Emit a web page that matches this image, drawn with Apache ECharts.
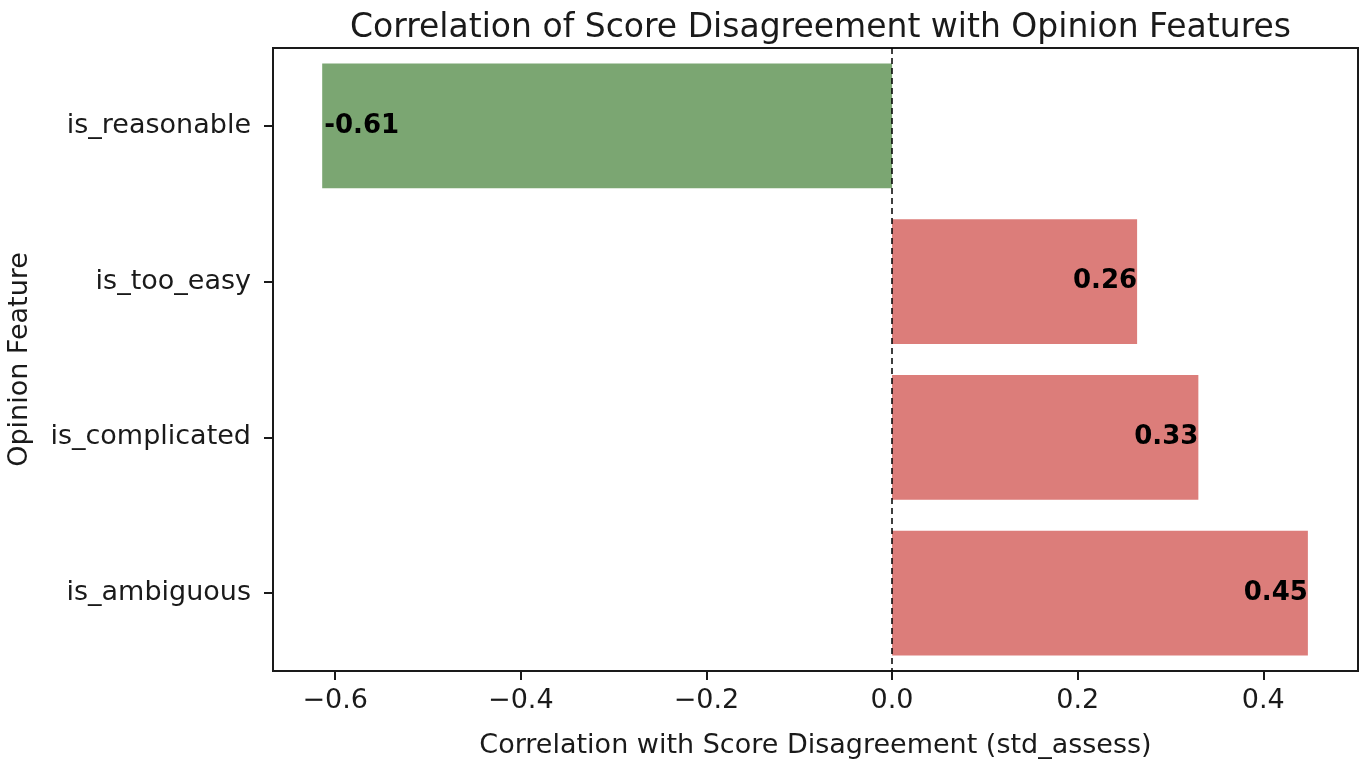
<!DOCTYPE html>
<html>
<head>
<meta charset="utf-8">
<script src="https://cdn.jsdelivr.net/npm/echarts@6/dist/echarts.min.js"></script>
<style>html,body{margin:0;padding:0;background:#fff;}#c{width:1370px;height:768px;}</style>
</head>
<body>
<div id="c"></div>
<script>
const categories = ['is_reasonable', 'is_too_easy', 'is_complicated', 'is_ambiguous'];
const values = [-0.614, 0.264, 0.33, 0.448];
const xTicks = [-0.6, -0.4, -0.2, 0.0, 0.2, 0.4];
const greenColor = '#7ba672';
const redColor = '#dc7d7a';
const FONT = 'DejaVu Sans';

const chart = echarts.init(document.getElementById('c'), null, {renderer: 'canvas'});
const barData = values.map(v => ({
  value: v,
  itemStyle: {color: v < 0 ? greenColor : redColor},
  label: {position: v < 0 ? 'insideLeft' : 'insideRight', distance: v < 0 ? 2 : 0}
}));
chart.setOption({
  animation: false,
  backgroundColor: '#fff',
  title: {
    text: 'Correlation of Score Disagreement with Opinion Features',
    left: 815.5, top: 7, textAlign: 'center',
    textStyle: {fontFamily: FONT, fontSize: 33, fontWeight: 'normal', color: '#1a1a1a'}
  },
  grid: {left: 273, right: 12, top: 48, bottom: 97, show: true, borderColor: '#1a1a1a', borderWidth: 2,
    containLabel: false, outerBoundsMode: 'none'},
  xAxis: {
    type: 'value', min: -0.667, max: 0.502,
    name: 'Correlation with Score Disagreement (std_assess)',
    nameLocation: 'middle', nameGap: 61,
    nameTextStyle: {fontFamily: FONT, fontSize: 27, color: '#1a1a1a'},
    axisLine: {show: true, onZero: false, lineStyle: {color: '#1a1a1a', width: 2}},
    axisTick: {show: true, length: 9, customValues: xTicks, lineStyle: {color: '#1a1a1a', width: 2}},
    axisLabel: {customValues: xTicks, margin: 16, fontFamily: FONT, fontSize: 27, color: '#1a1a1a',
      formatter: v => (v < 0 ? '\u2212' : '') + Math.abs(v).toFixed(1)},
    splitLine: {show: false}
  },
  yAxis: {
    type: 'category', data: categories, inverse: true,
    name: 'Opinion Feature', nameLocation: 'middle', nameGap: 240, nameRotate: 90,
    nameTextStyle: {fontFamily: FONT, fontSize: 27, color: '#1a1a1a'},
    axisLine: {show: true, onZero: false, lineStyle: {color: '#1a1a1a', width: 2}},
    axisTick: {show: true, length: 9, alignWithLabel: true, lineStyle: {color: '#1a1a1a', width: 2}},
    axisLabel: {margin: 22, fontFamily: FONT, fontSize: 27, color: '#1a1a1a'},
    splitLine: {show: false}
  },
  series: [{
    type: 'bar', data: barData, barCategoryGap: '20%',
    label: {show: true, fontFamily: FONT, fontSize: 26, fontWeight: 'bold', color: '#000',
      formatter: p => p.value.toFixed(2)},
    markLine: {
      silent: true, symbol: 'none', label: {show: false},
      lineStyle: {color: '#000', type: [6, 4], width: 1.5},
      data: [{xAxis: 0}]
    }
  }]
});
</script>
</body>
</html>
